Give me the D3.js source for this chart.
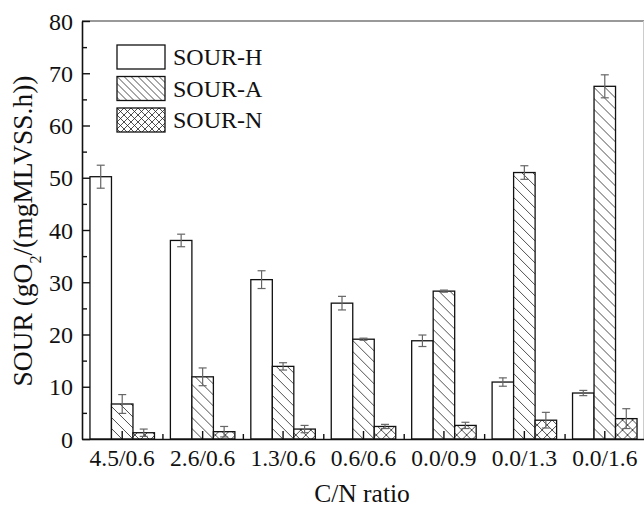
<!DOCTYPE html>
<html>
<head>
<meta charset="utf-8">
<script src="https://cdn.jsdelivr.net/npm/d3@7"></script>
<style>
  body { margin: 0; background: #fff; }
  text { font-family: "Liberation Serif", "Times New Roman", serif; fill: #111; }
</style>
</head>
<body>
<div id="chart"></div>
<script>
// C/N ratio categories
const categories = ["4.5/0.6", "2.6/0.6", "1.3/0.6", "0.6/0.6", "0.0/0.9", "0.0/1.3", "0.0/1.6"];
const seriesNames = ["SOUR-H", "SOUR-A", "SOUR-N"];

// values
const sourH = [50.2, 38.0, 30.5, 26.0, 18.8, 10.9, 8.8];
const sourA = [6.7, 11.9, 13.9, 19.1, 28.3, 51.0, 67.5];
const sourN = [1.2, 1.4, 1.9, 2.4, 2.6, 3.6, 3.9];
const errH = [2.2, 1.2, 1.7, 1.3, 1.1, 0.8, 0.5];
const errA = [1.8, 1.7, 0.7, 0.2, 0.2, 1.3, 2.2];
const errN = [0.7, 1.0, 0.7, 0.4, 0.6, 1.5, 1.9];

const yTicks = [0, 10, 20, 30, 40, 50, 60, 70, 80];

const width = 644, height = 507;
const svg = d3.select("#chart").append("svg")
    .attr("width", width)
    .attr("height", height);

// hatch patterns
const defs = svg.append("defs");
function hatch(id, size, cross) {
  const p = defs.append("pattern")
      .attr("id", id)
      .attr("patternUnits", "userSpaceOnUse")
      .attr("width", size)
      .attr("height", size);
  p.append("rect").attr("width", size).attr("height", size).attr("fill", "#fff");
  const lines = [[0, 0, size, size], [-size, 0, size, 2 * size], [0, -size, 2 * size, size]];
  if (cross) lines.push([0, size, size, 0], [-size, size, size, -size], [0, 2 * size, 2 * size, 0]);
  lines.forEach(l => p.append("line")
      .attr("x1", l[0]).attr("y1", l[1]).attr("x2", l[2]).attr("y2", l[3])
      .attr("stroke", "#222").attr("stroke-width", 0.8));
}
hatch("hA", 11, false);
hatch("hN", 10, true);
hatch("hA_leg", 7, false);
hatch("hN_leg", 7, true);

const fills = ["#fff", "url(#hA)", "url(#hN)"];
const legFills = ["#fff", "url(#hA_leg)", "url(#hN_leg)"];

// scales
const x = d3.scaleBand().domain(categories).range([82, 645]).padding(0);
const xInner = d3.scaleBand().domain(seriesNames).range([0, 64.5]).padding(0);
const y = d3.scaleLinear().domain([0, 80]).range([439, 21]);

const data = categories.map((c, i) => ({
  cat: c,
  vals: [
    { s: "SOUR-H", v: sourH[i], e: errH[i], f: 0 },
    { s: "SOUR-A", v: sourA[i], e: errA[i], f: 1 },
    { s: "SOUR-N", v: sourN[i], e: errN[i], f: 2 }
  ]
}));

// bars
const groups = svg.selectAll("g.group")
    .data(data)
    .enter()
    .append("g")
    .attr("class", "group")
    .attr("transform", d => `translate(${x(d.cat) + x.bandwidth() / 2 - 32.25},0)`);

groups.selectAll("rect")
    .data(d => d.vals)
    .enter()
    .append("rect")
    .attr("x", d => xInner(d.s))
    .attr("y", d => y(d.v))
    .attr("width", xInner.bandwidth())
    .attr("height", d => y(0) - y(d.v))
    .attr("fill", d => fills[d.f])
    .attr("stroke", "#111")
    .attr("stroke-width", 1.3);

// error bars
const eb = groups.selectAll("g.err")
    .data(d => d.vals)
    .enter()
    .append("g")
    .attr("class", "err")
    .attr("stroke", "#666")
    .attr("stroke-width", 1.2);
eb.append("line")
    .attr("x1", d => xInner(d.s) + xInner.bandwidth() / 2)
    .attr("x2", d => xInner(d.s) + xInner.bandwidth() / 2)
    .attr("y1", d => y(d.v + d.e))
    .attr("y2", d => y(d.v - d.e));
[1, -1].forEach(k => {
  eb.append("line")
      .attr("x1", d => xInner(d.s) + xInner.bandwidth() / 2 - 4)
      .attr("x2", d => xInner(d.s) + xInner.bandwidth() / 2 + 4)
      .attr("y1", d => y(d.v + k * d.e))
      .attr("y2", d => y(d.v + k * d.e));
});

// frame top and right
svg.append("line").attr("x1", 82).attr("x2", 645).attr("y1", 21).attr("y2", 21)
    .attr("stroke", "#777").attr("stroke-width", 1.3);
svg.append("line").attr("x1", 643.5).attr("x2", 643.5).attr("y1", 21).attr("y2", 439)
    .attr("stroke", "#ccc").attr("stroke-width", 1);

// y axis
const yAxis = svg.append("g")
    .attr("transform", "translate(82,0)")
    .call(d3.axisLeft(y).tickValues(yTicks).tickSizeInner(-8).tickSizeOuter(0).tickPadding(9));
yAxis.selectAll("text").style("font-size", "24px").attr("dy", "0.34em");
svg.append("g")
    .attr("transform", "translate(82,0)")
    .call(d3.axisLeft(y).tickValues(d3.range(5, 80, 10)).tickSize(-5).tickFormat(""))
    .select(".domain").remove();

// x axis
const xAxis = svg.append("g")
    .attr("transform", "translate(0,439)")
    .call(d3.axisBottom(x).tickSizeInner(-8).tickSizeOuter(0).tickPadding(10));
xAxis.selectAll("text").style("font-size", "23.5px").attr("dy", "0.71em");
const xMinor = d3.scaleLinear().domain([0, categories.length]).range([82, 645]);
svg.append("g")
    .attr("transform", "translate(0,439)")
    .call(d3.axisBottom(xMinor).tickValues(d3.range(1, categories.length)).tickSize(-5).tickFormat(""))
    .select(".domain").remove();

svg.selectAll(".domain").attr("stroke", "#111").attr("stroke-width", 1.6);
svg.selectAll(".tick line").attr("stroke", "#111").attr("stroke-width", 1.4);

// axis titles
svg.append("text")
    .attr("x", 362)
    .attr("y", 502)
    .attr("text-anchor", "middle")
    .style("font-size", "25.5px")
    .text("C/N ratio");

const yt = svg.append("text")
    .attr("transform", "translate(32,231) rotate(-90)")
    .attr("text-anchor", "middle")
    .style("font-size", "27.5px");
yt.append("tspan").text("SOUR (gO");
yt.append("tspan").attr("baseline-shift", "sub").style("font-size", "16px").text("2");
yt.append("tspan").text("/(mgMLVSS.h))");

// legend
const legend = svg.selectAll(".legend")
    .data(seriesNames)
    .enter()
    .append("g")
    .attr("class", "legend")
    .attr("transform", (d, i) => `translate(117,${45 + i * 31.5})`);
legend.append("rect")
    .attr("width", 48)
    .attr("height", 24)
    .attr("fill", (d, i) => legFills[i])
    .attr("stroke", "#111")
    .attr("stroke-width", 1.3);
legend.append("text")
    .attr("x", 56)
    .attr("y", 20)
    .style("font-size", "24px")
    .text(d => d);
</script>
</body>
</html>
